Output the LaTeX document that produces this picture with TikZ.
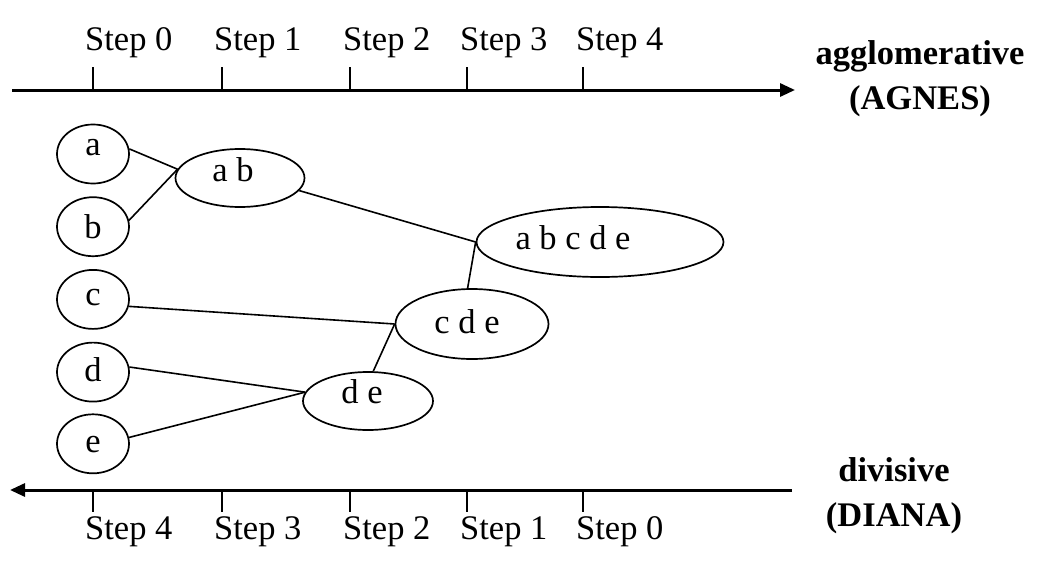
\documentclass[tikz,border=0pt]{standalone}
\usepackage{fontspec}
\setmainfont{Liberation Serif}
\usepackage{tikz}
\usetikzlibrary{
    arrows.meta,
    positioning,
    shapes.geometric
}
\tikzset{
    cluster/.style={
        ellipse,
        draw=black,
        inner sep=0pt,
        line width=1.7pt
    },
    leaf/.style={
        cluster,
        minimum width=72pt,
        minimum height=59pt
    },
    link/.style={
        draw=black,
        line width=1.6pt
    },
    axis/.style={
        draw=black,
        line width=3pt
    },
    tick/.style={
        draw=black,
        line width=1.6pt
    },
    steplbl/.style={
        anchor=base west,
        inner sep=0pt
    },
    method/.style={
        align=center,
        font=\fontsize{34.5}{44.5}\selectfont\bfseries,
        inner sep=0pt
    }
}

\begin{document}
\begin{tikzpicture}[
    x=1pt, y=-1pt,
    font=\fontsize{34.5}{40}\selectfont
]
    \useasboundingbox (0,0) rectangle (1046,570);

    % Axes
    \coordinate (topstart) at (12,90);
    \coordinate (topend) at (795,90);
    \coordinate (botstart) at (792,490);
    \coordinate (botend) at (10,490);
    \draw[axis, -{Triangle[length=15pt,width=13pt]}] (topstart) -- (topend);
    \draw[axis, -{Triangle[length=15pt,width=13pt]}] (botstart) -- (botend);

    % Ticks
    \draw[tick] (93,67) -- (93,90);
    \draw[tick] (222,67) -- (222,90);
    \draw[tick] (350,67) -- (350,90);
    \draw[tick] (467,67) -- (467,90);
    \draw[tick] (583,67) -- (583,90);
    \draw[tick] (93,490) -- (93,512);
    \draw[tick] (222,490) -- (222,512);
    \draw[tick] (350,490) -- (350,512);
    \draw[tick] (467,490) -- (467,512);
    \draw[tick] (583,490) -- (583,512);

    % Step labels
    \node[steplbl] (top0) at (85,50) {Step 0};
    \node[steplbl] (top1) at (214,50) {Step 1};
    \node[steplbl] (top2) at (343,50) {Step 2};
    \node[steplbl] (top3) at (460,50) {Step 3};
    \node[steplbl] (top4) at (576,50) {Step 4};
    \node[steplbl] (bot4) at (85,539) {Step 4};
    \node[steplbl] (bot3) at (214,539) {Step 3};
    \node[steplbl] (bot2) at (343,539) {Step 2};
    \node[steplbl] (bot1) at (460,539) {Step 1};
    \node[steplbl] (bot0) at (576,539) {Step 0};

    % Method names
    \node[method, anchor=base] (agnes) at (920,109) {agglomerative\\(AGNES)};
    \node[method, anchor=base] (diana) at (894,526) {divisive\\(DIANA)};

    % Objects
    \node[leaf, label={[yshift=6pt]center:a}] (a) at (93,154) {};
    \node[leaf, below=12pt of a, label={center:b}] (b) {};
    \node[leaf, below=12pt of b, label={[yshift=2pt]center:c}] (c) {};
    \node[leaf, below=12pt of c, label={[yshift=2pt]center:d}] (d) {};
    \node[leaf, below=11pt of d, label={[yshift=-1pt]center:e}] (e) {};

    % Clusters
    \node[cluster, minimum width=129pt, minimum height=58pt,
        label={[xshift=-7pt, yshift=8pt]center:a b}] (ab) at (240,178) {};
    \node[cluster, minimum width=247pt, minimum height=70pt,
        label={[xshift=-27pt, yshift=4pt]center:a b c d e}] (abcde) at (600,242) {};
    \node[cluster, minimum width=153pt, minimum height=70pt,
        label={[xshift=-5pt, yshift=2pt]center:c d e}] (cde) at (472,324) {};
    \node[cluster, minimum width=130pt, minimum height=58pt,
        label={[xshift=-6pt, yshift=9pt]center:d e}] (de) at (368,401) {};

    % Merges
    \draw[link] (a.8) -- (ab.172);
    \draw[link] (b.10) -- (ab.172);
    \draw[link] (ab.-12) -- (abcde.west);
    \draw[link] (c.-11) -- (cde.west);
    \draw[link] (d.8) -- (de.172);
    \draw[link] (e.10) -- (de.172);
    \draw[link] (de.80) -- (cde.west);
    \draw[link] (cde.97) -- (abcde.west);
\end{tikzpicture}
\end{document}
